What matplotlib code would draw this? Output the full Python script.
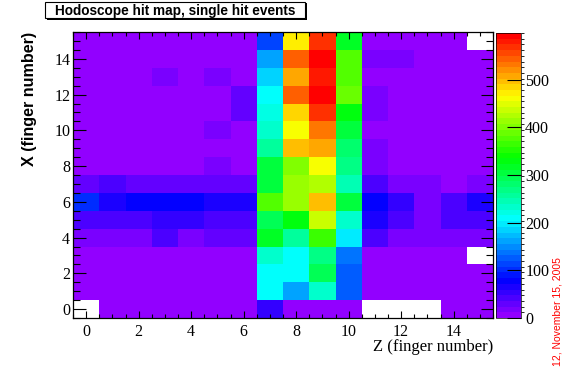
import colorsys
import numpy as np
import matplotlib
matplotlib.use("Agg")
import matplotlib.pyplot as plt
from matplotlib.colors import ListedColormap, BoundaryNorm
from matplotlib.ticker import MultipleLocator
from matplotlib.patches import Rectangle

# hit counts, rows from X=15 (top) down to X=0, columns Z=0..15 ; 0 = empty bin
counts = [
    [6, 6, 6, 6, 6, 6, 6, 114, 472, 568, 317, 6, 6, 6, 6, 0],
    [6, 6, 6, 6, 6, 6, 6, 161, 550, 598, 380, 18, 18, 6, 6, 6],
    [6, 6, 6, 20, 6, 20, 6, 185, 508, 575, 375, 6, 6, 6, 6, 6],
    [6, 6, 6, 6, 6, 6, 25, 209, 544, 592, 390, 20, 6, 6, 6, 6],
    [6, 6, 6, 6, 6, 6, 25, 225, 484, 568, 328, 20, 6, 6, 6, 6],
    [6, 6, 6, 6, 6, 20, 6, 235, 460, 532, 305, 6, 6, 6, 6, 6],
    [6, 6, 6, 6, 6, 6, 6, 258, 500, 510, 280, 20, 6, 6, 6, 6],
    [6, 6, 6, 6, 6, 20, 6, 305, 400, 462, 272, 20, 6, 6, 6, 6],
    [24, 42, 30, 30, 30, 34, 34, 300, 410, 425, 245, 40, 18, 18, 8, 18],
    [100, 65, 78, 78, 78, 65, 65, 375, 410, 497, 300, 78, 58, 18, 42, 66],
    [47, 47, 47, 52, 52, 47, 47, 292, 333, 437, 233, 70, 42, 18, 40, 40],
    [20, 20, 20, 38, 20, 32, 32, 317, 256, 365, 197, 38, 20, 15, 20, 20],
    [6, 6, 6, 6, 6, 6, 6, 233, 209, 269, 137, 6, 6, 6, 6, 0],
    [6, 6, 6, 6, 6, 6, 6, 209, 207, 293, 125, 6, 6, 6, 6, 6],
    [6, 6, 6, 6, 6, 6, 6, 209, 161, 231, 122, 6, 6, 6, 6, 6],
    [0, 6, 6, 6, 6, 6, 6, 55, 6, 6, 6, 0, 0, 0, 6, 6],
]
z_fingers = np.arange(16)
x_fingers = np.arange(16)
axis_ticks = [0, 2, 4, 6, 8, 10, 12, 14]
cbar_ticks = [0, 100, 200, 300, 400, 500]

W, H = 570, 369
fig = plt.figure(figsize=(W / 100, H / 100), dpi=100)

# ROOT "pretty" palette: 50 hues violet -> red
pal = [colorsys.hls_to_rgb((280 - (i + 1) * 5.6) / 360.0, 0.5, 1.0) for i in range(50)]
cmap = ListedColormap(pal)
cmap.set_bad("white")

data = np.ma.masked_equal(np.array(counts[::-1], dtype=float), 0)
zmax = data.max()
norm = BoundaryNorm(np.linspace(0, zmax, 51), ncolors=50)

ax = fig.add_axes([73 / W, 1 - 318 / H, 420 / W, 286 / H])
edges_z = np.append(z_fingers - 0.5, z_fingers[-1] + 0.5)
edges_x = np.append(x_fingers - 0.5, x_fingers[-1] + 0.5)
mesh = ax.pcolormesh(edges_z, edges_x, data, cmap=cmap, norm=norm)
ax.set_xlim(-0.5, 15.5)
ax.set_ylim(-0.5, 15.5)

ax.set_xticks(axis_ticks)
ax.set_yticks(axis_ticks)
ax.xaxis.set_minor_locator(MultipleLocator(0.5))
ax.yaxis.set_minor_locator(MultipleLocator(0.5))
ax.tick_params(which="both", direction="in", top=True, right=True, width=0.8,
               labelsize=11.5, labelfontfamily="Liberation Serif")
ax.tick_params(axis="x", which="major", length=5, pad=4)
ax.tick_params(axis="x", which="minor", length=2.8)
ax.tick_params(axis="y", which="major", length=9, pad=2)
ax.tick_params(axis="y", which="minor", length=5)
for s in ax.spines.values():
    s.set_linewidth(0.9)

ax.set_xlabel("Z (finger number)", loc="right", fontsize=12, family="Liberation Serif")
ax.xaxis.set_label_coords(1.0, -0.075)
ax.set_ylabel("X (finger number)", loc="top", fontsize=11.6, fontweight="bold",
              family="Liberation Sans")
ax.yaxis.set_label_coords(-0.086, 1.0)

cax = fig.add_axes([496 / W, 1 - 318 / H, 25 / W, 285 / H])
cb = fig.colorbar(mesh, cax=cax, ticks=cbar_ticks)
cb.outline.set_linewidth(0.5)
cax.tick_params(direction="in", length=10, width=0.8, labelsize=11.5, pad=3,
                labelfontfamily="Liberation Serif")

# title box with shadow
fig.patches.append(Rectangle((47 / W, 1 - 20 / H), 260 / W, 17 / H, transform=fig.transFigure,
                             facecolor="black", edgecolor="none", zorder=5))
fig.patches.append(Rectangle((45 / W, 1 - 18 / H), 260 / W, 16 / H, transform=fig.transFigure,
                             facecolor="white", edgecolor="black", linewidth=0.8, zorder=6))
fig.text(175 / W, 1 - 10.5 / H, "Hodoscope hit map, single hit events", ha="center", va="center",
         fontsize=9.8, fontweight="bold", family="Liberation Sans", zorder=7)

fig.text(557 / W, 1 - 366 / H, "12, November 15, 2005", rotation=90, ha="center", va="bottom",
         color="red", fontsize=7.5, family="Liberation Sans")

fig.savefig("out.png", dpi=100)
